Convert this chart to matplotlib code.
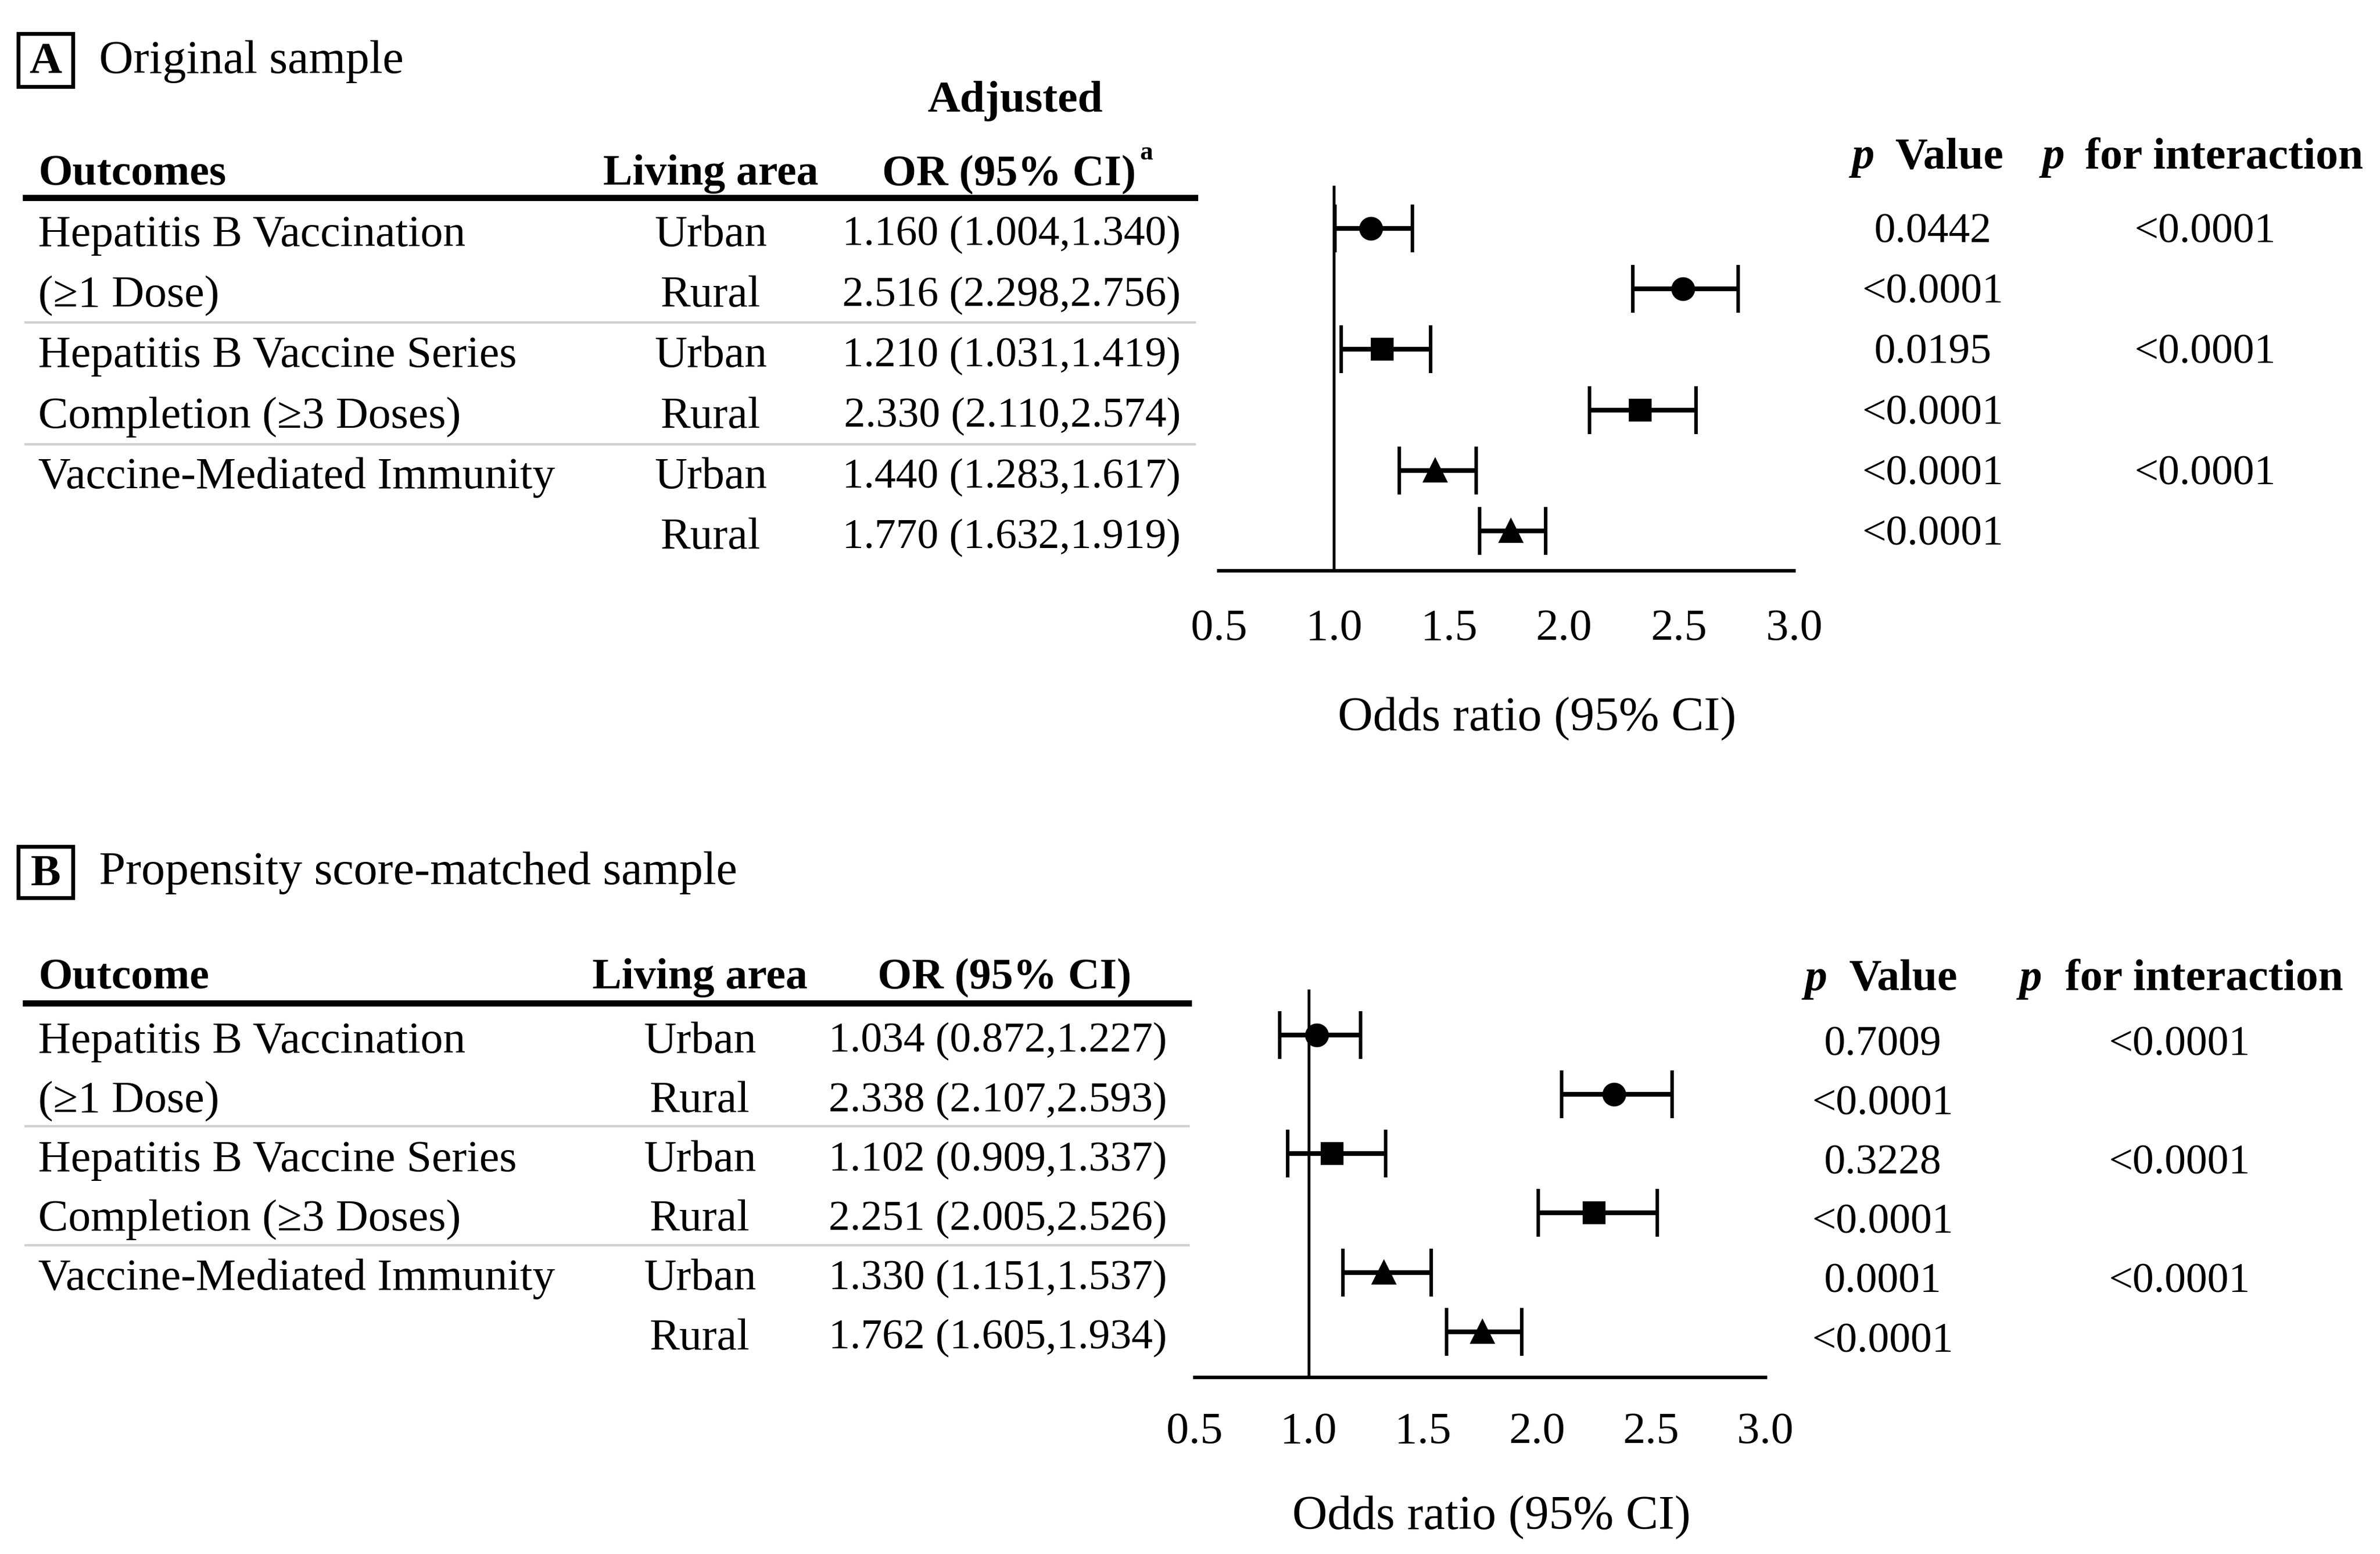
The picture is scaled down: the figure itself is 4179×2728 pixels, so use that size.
import matplotlib.pyplot as plt
from matplotlib.patches import Rectangle
from matplotlib.lines import Line2D

plt.rcParams['font.family'] = ['Liberation Serif', 'DejaVu Serif']

# data
outcomes = ['Hepatitis B Vaccination', '(\u22651 Dose)', 'Hepatitis B Vaccine Series',
            'Completion (\u22653 Doses)', 'Vaccine-Mediated Immunity', '']
areas = ['Urban', 'Rural', 'Urban', 'Rural', 'Urban', 'Rural']
markers = ['o', 'o', 's', 's', '^', '^']

or_a = [1.160, 2.516, 1.210, 2.330, 1.440, 1.770]
lo_a = [1.004, 2.298, 1.031, 2.110, 1.283, 1.632]
hi_a = [1.340, 2.756, 1.419, 2.574, 1.617, 1.919]
p_a = ['0.0442', '<0.0001', '0.0195', '<0.0001', '<0.0001', '<0.0001']
pint_a = ['<0.0001', '', '<0.0001', '', '<0.0001', '']

or_b = [1.034, 2.338, 1.102, 2.251, 1.330, 1.762]
lo_b = [0.872, 2.107, 0.909, 2.005, 1.151, 1.605]
hi_b = [1.227, 2.593, 1.337, 2.526, 1.537, 1.934]
p_b = ['0.7009', '<0.0001', '0.3228', '<0.0001', '0.0001', '<0.0001']
pint_b = ['<0.0001', '', '<0.0001', '', '<0.0001', '']

xticks = [0.5, 1.0, 1.5, 2.0, 2.5, 3.0]

# layout grid (measured on a 1564 x 1021 copy of the reference)
W, H = 1564, 1021
fs = 19
fs_num = 18
dy_txt = 2.5   # va='center' sits a bit high for this font

fig = plt.figure(figsize=(4179 / 300, 2728 / 300), dpi=300)


def fx(x):
    return x / W


def fy(y):
    return 1 - y / H


def txt(x, y, s, ha='left', **kw):
    kw.setdefault('fontsize', fs)
    fig.text(fx(x), fy(y + dy_txt), s, ha=ha, va='center', **kw)


def hline(y, x0, x1, lw, color='black'):
    fig.add_artist(Line2D([fx(x0), fx(x1)], [fy(y), fy(y)], lw=lw, color=color,
                          transform=fig.transFigure))


def draw_panel(L, letter, title, out_hdr, ors, los, his, pv, pint, adjusted):
    # letter box + title
    x0, y0, x1, y1 = L['box']
    fig.add_artist(Rectangle((fx(x0), fy(y1)), fx(x1) - fx(x0), fy(y0) - fy(y1),
                             fill=False, lw=1.6, transform=fig.transFigure))
    txt((x0 + x1) / 2, (y0 + y1) / 2 - 1, letter, ha='center', fontweight='bold')
    txt(65, L['title_y'], title, fontsize=20)

    # table header
    hy = L['hdr_y']
    if adjusted:
        txt(L['or_c'] + 4, hy - 48, 'Adjusted', ha='center', fontweight='bold')
        txt(L['or_c'] + 86, hy - 14, 'a', ha='left', fontsize=11, fontweight='bold')
    txt(25, hy, out_hdr, fontweight='bold', fontsize=18.5)
    txt(L['area_c'], hy, 'Living area', ha='center', fontweight='bold', fontsize=18.5)
    txt(L['or_c'], hy, 'OR (95% CI)', ha='center', fontweight='bold', fontsize=18.5)
    hline(L['thick_y'], 17, L['line_x1'], 2.6)
    for sy in L['sep_y']:
        hline(sy, 17, L['line_x1'], 1.0, '#d0d0d0')

    # p value headers
    py = L['p_hdr_y']
    for xp, xw, word in [(L['pv_hdr'][0], L['pv_hdr'][1], 'Value'),
                         (L['pi_hdr'][0], L['pi_hdr'][1], 'for interaction')]:
        txt(xp, py, 'p', fontweight='bold', fontstyle='italic')
        txt(xw, py, word, fontweight='bold')

    # rows
    for i in range(6):
        ry = L['row_y0'] + L['row_dy'] * i
        txt(25, ry, outcomes[i])
        txt(L['area_c'], ry, areas[i], ha='center')
        txt(L['or_r'], ry, f'{ors[i]:.3f} ({los[i]:.3f},{his[i]:.3f})', ha='right',
            fontsize=fs_num)
        py_i = L['p_y0'] + L['row_dy'] * i
        txt(L['pv_c'], py_i, pv[i], ha='center', fontsize=fs_num)
        if pint[i]:
            txt(L['pi_c'], py_i, pint[i], ha='center', fontsize=fs_num)

    # forest plot
    ax0, ax1, ay0, ay1 = L['ax']
    ax = fig.add_axes([fx(ax0), fy(ay1), fx(ax1) - fx(ax0), fy(ay0) - fy(ay1)])
    ax.patch.set_alpha(0)
    m0, mdy = L['mk_y0'], L['row_dy']
    ax.set_ylim((ay1 - m0) / mdy, (ay0 - m0) / mdy)
    ax.set_xlim(0.5, 3.0)
    for i in range(6):
        ax.errorbar(ors[i], i, xerr=[[ors[i] - los[i]], [his[i] - ors[i]]],
                    fmt=markers[i], color='black', ms=8.5 if markers[i] == 's' else 9,
                    capsize=10, elinewidth=2, capthick=1.5)
    ax.axvline(1.0, color='black', lw=1.2)
    for s in ['top', 'left', 'right']:
        ax.spines[s].set_visible(False)
    ax.spines['bottom'].set_linewidth(1.5)
    ax.set_yticks([])
    ax.set_xticks(xticks)
    ax.set_xticklabels([f'{t:.1f}' for t in xticks])
    ax.tick_params(axis='x', length=0, pad=L['pad'], labelsize=fs)
    ax.set_xlabel('Odds ratio (95% CI)', fontsize=20.5)
    ax.xaxis.set_label_coords((L['xl_c'] - ax0) / (ax1 - ax0),
                              -(L['xl_y'] - ay1) / (ay1 - ay0))
    ax.xaxis.label.set_va('center')


lay_a = dict(box=(12, 22, 48, 57), title_y=38, hdr_y=112, area_c=467, or_c=663,
             or_r=776, thick_y=130, line_x1=785, sep_y=[212, 292],
             p_hdr_y=101, pv_hdr=(1217, 1245), pi_hdr=(1342, 1370),
             row_y0=152, row_dy=39.8, p_y0=150, pv_c=1270, pi_c=1449,
             ax=(801, 1179, 122, 375), mk_y0=150, xl_c=1010, xl_y=472, pad=16)
lay_b = dict(box=(12, 556, 48, 590), title_y=571, hdr_y=640, area_c=460, or_c=660,
             or_r=767, thick_y=659, line_x1=781, sep_y=[740, 818],
             p_hdr_y=641, pv_hdr=(1186, 1215), pi_hdr=(1327, 1357),
             row_y0=682, row_dy=39.0, p_y0=684, pv_c=1237, pi_c=1432,
             ax=(785, 1160, 650, 905), mk_y0=680, xl_c=980, xl_y=997, pad=14.5)

draw_panel(lay_a, 'A', 'Original sample', 'Outcomes', or_a, lo_a, hi_a, p_a, pint_a, True)
draw_panel(lay_b, 'B', 'Propensity score-matched sample', 'Outcome', or_b, lo_b, hi_b, p_b, pint_b, False)

fig.savefig('out.png', dpi=300)
